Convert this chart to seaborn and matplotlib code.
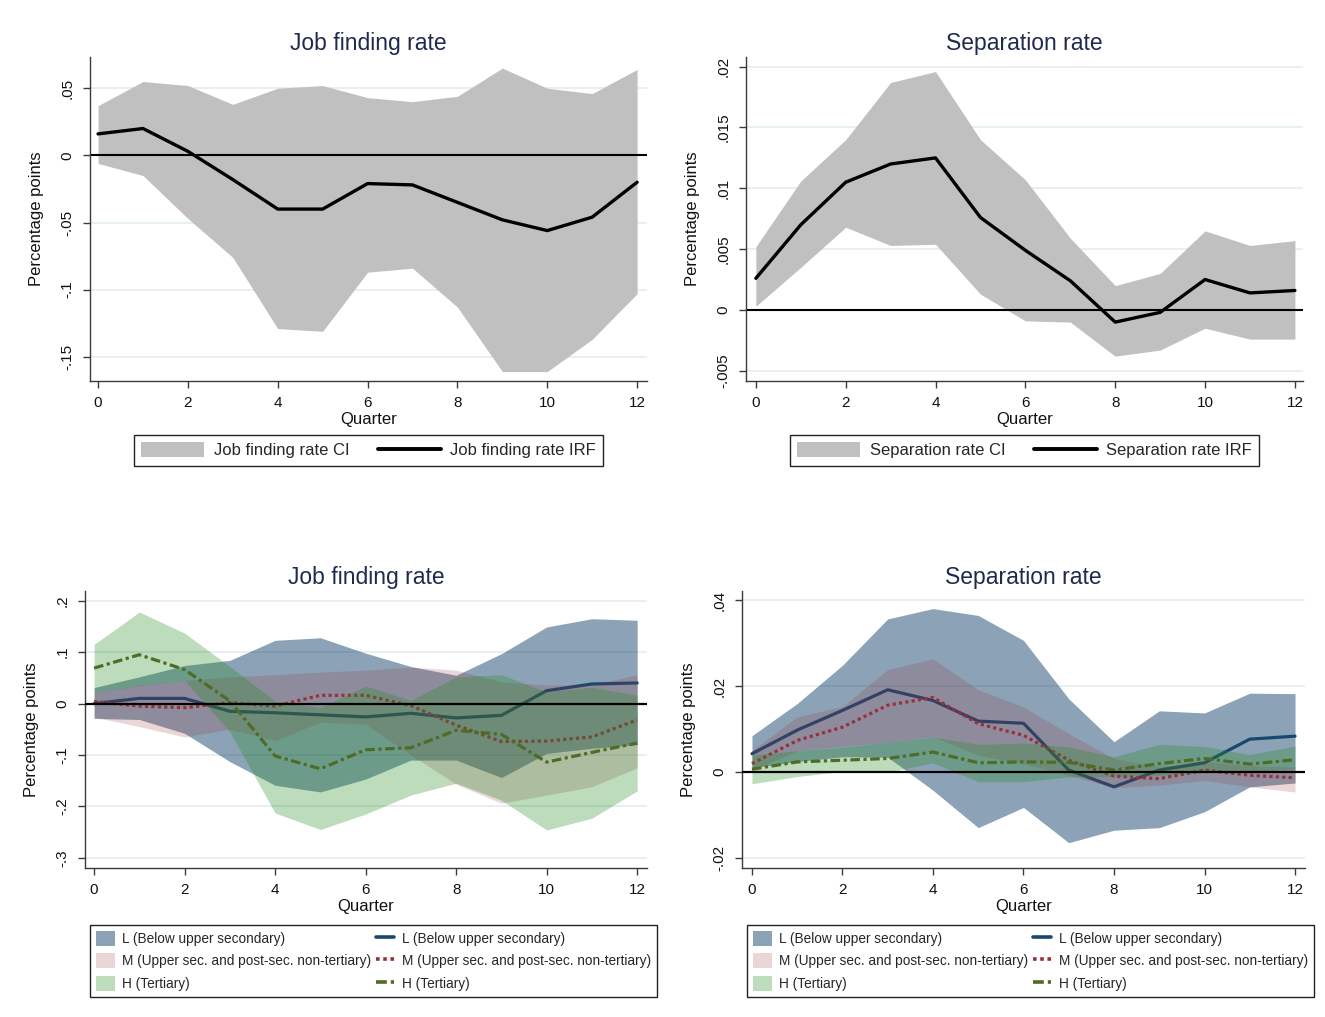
"""
Impulse responses of job finding and separation rates, pooled and by education.
"""

import numpy as np
import pandas as pd
import matplotlib
matplotlib.use('Agg')
import matplotlib.pyplot as plt
from matplotlib.patches import Patch
from matplotlib.lines import Line2D
import seaborn as sns

quarters = list(range(13))
xtick_values = [0, 2, 4, 6, 8, 10, 12]

# pooled job finding rate
jf_irf = [0.016, 0.020, 0.003, -0.018, -0.040, -0.040, -0.021, -0.022, -0.035, -0.048, -0.056, -0.046, -0.020]
jf_lo = [-0.006, -0.015, -0.047, -0.076, -0.129, -0.131, -0.087, -0.084, -0.113, -0.161, -0.161, -0.137, -0.103]
jf_hi = [0.037, 0.055, 0.052, 0.038, 0.050, 0.052, 0.043, 0.040, 0.044, 0.065, 0.050, 0.046, 0.064]

# pooled separation rate
sr_irf = [0.0026, 0.0070, 0.0105, 0.0120, 0.0125, 0.0076, 0.0049, 0.0024, -0.0010, -0.0002, 0.0025, 0.0014, 0.0016]
sr_lo = [0.0003, 0.0035, 0.0068, 0.0053, 0.0054, 0.0013, -0.0009, -0.0010, -0.0038, -0.0033, -0.0015, -0.0024, -0.0024]
sr_hi = [0.0052, 0.0106, 0.0140, 0.0187, 0.0196, 0.0140, 0.0107, 0.0059, 0.0020, 0.0030, 0.0065, 0.0053, 0.0057]

# job finding rate by education
jf_L = [0.000, 0.010, 0.010, -0.015, -0.018, -0.022, -0.026, -0.019, -0.028, -0.023, 0.025, 0.038, 0.040]
jf_L_lo = [-0.029, -0.031, -0.058, -0.113, -0.159, -0.172, -0.147, -0.110, -0.110, -0.144, -0.097, -0.087, -0.080]
jf_L_hi = [0.031, 0.052, 0.074, 0.084, 0.123, 0.128, 0.098, 0.072, 0.055, 0.097, 0.149, 0.165, 0.162]
jf_M = [0.004, -0.005, -0.008, 0.002, -0.005, 0.016, 0.016, -0.004, -0.042, -0.074, -0.073, -0.065, -0.032]
jf_M_lo = [-0.026, -0.045, -0.065, -0.050, -0.072, -0.036, -0.040, -0.100, -0.157, -0.194, -0.178, -0.162, -0.125]
jf_M_hi = [0.022, 0.036, 0.045, 0.052, 0.056, 0.061, 0.065, 0.071, 0.065, 0.042, 0.036, 0.036, 0.056]
jf_H = [0.069, 0.095, 0.066, 0.005, -0.102, -0.127, -0.090, -0.086, -0.052, -0.060, -0.114, -0.095, -0.077]
jf_H_lo = [0.022, 0.035, 0.045, -0.055, -0.213, -0.245, -0.215, -0.178, -0.155, -0.188, -0.246, -0.223, -0.170]
jf_H_hi = [0.115, 0.178, 0.137, 0.072, 0.005, -0.008, 0.034, 0.006, 0.052, 0.056, 0.023, 0.032, 0.016]

# separation rate by education
sr_L = [0.0043, 0.0098, 0.0144, 0.0192, 0.0167, 0.0119, 0.0114, 0.0005, -0.0034, 0.0005, 0.0022, 0.0077, 0.0084]
sr_L_lo = [0.0010, 0.0025, 0.0036, 0.0035, -0.0042, -0.0129, -0.0082, -0.0164, -0.0135, -0.0129, -0.0092, -0.0034, -0.0025]
sr_L_hi = [0.0085, 0.0160, 0.0249, 0.0357, 0.0381, 0.0365, 0.0307, 0.0171, 0.0071, 0.0143, 0.0138, 0.0184, 0.0183]
sr_M = [0.0020, 0.0074, 0.0105, 0.0156, 0.0174, 0.0113, 0.0086, 0.0028, -0.0009, -0.0015, 0.0005, -0.0007, -0.0013]
sr_M_lo = [0.0005, 0.0050, 0.0060, 0.0070, 0.0083, 0.0040, 0.0020, -0.0007, -0.0036, -0.0030, -0.0019, -0.0034, -0.0046]
sr_M_hi = [0.0050, 0.0129, 0.0153, 0.0239, 0.0264, 0.0192, 0.0152, 0.0090, 0.0032, 0.0012, 0.0025, 0.0015, 0.0012]
sr_H = [0.0007, 0.0024, 0.0028, 0.0032, 0.0047, 0.0022, 0.0024, 0.0023, 0.0005, 0.0020, 0.0032, 0.0019, 0.0029]
sr_H_lo = [-0.0027, -0.0010, 0.0002, 0.0000, 0.0022, -0.0022, -0.0022, -0.0011, -0.0010, -0.0007, 0.0000, 0.0000, 0.0008]
sr_H_hi = [0.0040, 0.0050, 0.0058, 0.0070, 0.0082, 0.0065, 0.0068, 0.0059, 0.0036, 0.0065, 0.0060, 0.0041, 0.0061]

group_names = ['L (Below upper secondary)',
               'M (Upper sec. and post-sec. non-tertiary)',
               'H (Tertiary)']

jf_ticks = [0.05, 0, -0.05, -0.1, -0.15]
jf_ticklabels = ['.05', '0', '-.05', '-.1', '-.15']
sr_ticks = [0.02, 0.015, 0.01, 0.005, 0, -0.005]
sr_ticklabels = ['.02', '.015', '.01', '.005', '0', '-.005']
jf_ed_ticks = [0.2, 0.1, 0, -0.1, -0.2, -0.3]
jf_ed_ticklabels = ['.2', '.1', '0', '-.1', '-.2', '-.3']
sr_ed_ticks = [0.04, 0.02, 0, -0.02]
sr_ed_ticklabels = ['.04', '.02', '0', '-.02']

sns.set_theme(style='white')
plt.rcParams['font.family'] = ['Liberation Sans', 'DejaVu Sans']

TITLE_COLOR = '#1e2b4c'
GRID_COLOR = '#e4eef0'
SPINE_COLOR = '#3a3a3a'
CI_GRAY = '#c0c0c0'
NAVY = '#1a476f'
MAROON = '#99303a'
FOREST = '#228b22'
OLIVE = '#4f6c26'

DOT = (0, (1, 1))
DASHDOT = (0, (3, 1.1, 1, 1.1))


def style_axes(ax, title, ylim, yticks, ylabels, xlim):
    ax.set_xlim(*xlim)
    ax.set_ylim(*ylim)
    ax.set_xticks(xtick_values)
    ax.set_xticklabels([str(v) for v in xtick_values])
    ax.set_yticks(yticks)
    ax.set_yticklabels(ylabels, rotation=90, va='center')
    ax.grid(axis='y', color=GRID_COLOR, lw=1.3)
    ax.grid(axis='x', visible=False)
    ax.set_axisbelow(True)
    for s in ['top', 'right']:
        ax.spines[s].set_visible(False)
    for s in ['left', 'bottom']:
        ax.spines[s].set_color(SPINE_COLOR)
        ax.spines[s].set_linewidth(1.0)
    ax.tick_params(axis='both', direction='out', length=5, width=1,
                   color=SPINE_COLOR, labelsize=11, pad=6,
                   left=True, bottom=True, labelcolor='#111111')
    ax.set_title(title, fontsize=16.5, color=TITLE_COLOR, pad=5)
    ax.set_xlabel('Quarter', fontsize=12, labelpad=1.5, color='#111111')
    ax.set_ylabel('Percentage points', fontsize=12, labelpad=12, color='#111111')


def plot_pooled(ax, irf, lo, hi, title, ylim, yticks, ylabels, xlim):
    df = pd.DataFrame({'quarter': quarters, 'irf': irf, 'lo': lo, 'hi': hi})
    ax.fill_between(df['quarter'], df['lo'], df['hi'], color=CI_GRAY, lw=0, zorder=1)
    ax.axhline(0, color='black', lw=1.5, zorder=2)
    sns.lineplot(data=df, x='quarter', y='irf', ax=ax, color='black', lw=2.4, zorder=3)
    style_axes(ax, title, ylim, yticks, ylabels, xlim)
    handles = [Patch(facecolor=CI_GRAY, edgecolor='none'),
               Line2D([], [], color='black', lw=2.8)]
    leg = ax.legend(handles, [title + ' CI', title + ' IRF'], ncol=2,
                    loc='upper center', bbox_to_anchor=(0.5, -0.14),
                    fontsize=12, frameon=True, fancybox=False, framealpha=1,
                    edgecolor='#222222', handlelength=3.8, handleheight=1.0,
                    handletextpad=0.55, columnspacing=1.7, borderpad=0.45)
    leg.get_frame().set_linewidth(1.0)


def plot_by_group(ax, lines, bands, title, ylim, yticks, ylabels, xlim):
    df = pd.DataFrame({'quarter': quarters})
    band_colors = [(NAVY, 0.5), (MAROON, 0.2), (FOREST, 0.3)]
    line_styles = [(NAVY, '-'), (MAROON, DOT), (OLIVE, DASHDOT)]
    z = 1
    for i, (vals, (lo, hi)) in enumerate(zip(lines, bands)):
        df['lo'], df['hi'], df['y'] = lo, hi, vals
        c, a = band_colors[i]
        ax.fill_between(df['quarter'], df['lo'], df['hi'], color=c, alpha=a, lw=0, zorder=z)
        lc, ls = line_styles[i]
        sns.lineplot(data=df, x='quarter', y='y', ax=ax, color=lc, lw=2.3,
                     linestyle=ls, zorder=z + 1)
        z += 2
    ax.axhline(0, color='black', lw=1.6, zorder=z)
    style_axes(ax, title, ylim, yticks, ylabels, xlim)

    handles = [Patch(facecolor=c, alpha=a, edgecolor='none') for c, a in band_colors]
    handles += [Line2D([], [], color=lc, lw=2.6, linestyle=ls) for lc, ls in line_styles]
    leg = ax.legend(handles, group_names * 2, ncol=2, loc='upper left',
                    bbox_to_anchor=(0.009, -0.205), fontsize=9.8, frameon=True,
                    fancybox=False, framealpha=1, edgecolor='#222222',
                    handlelength=1.35, handleheight=1.3, handletextpad=0.55,
                    columnspacing=0.35, labelspacing=0.55, borderpad=0.45,
                    borderaxespad=0.0)
    leg.get_frame().set_linewidth(1.0)


fig = plt.figure(figsize=(13.25, 10.17), dpi=100)
fig.patch.set_facecolor('white')

ax_tl = fig.add_axes([0.0679, 0.6254, 0.4204, 0.3186])
ax_tr = fig.add_axes([0.5630, 0.6254, 0.4204, 0.3186])
ax_bl = fig.add_axes([0.0642, 0.1465, 0.4242, 0.2724])
ax_br = fig.add_axes([0.5600, 0.1465, 0.4249, 0.2724])

plot_pooled(ax_tl, jf_irf, jf_lo, jf_hi, 'Job finding rate',
            (-0.168, 0.0733), jf_ticks, jf_ticklabels, (-0.18, 12.22))
plot_pooled(ax_tr, sr_irf, sr_lo, sr_hi, 'Separation rate',
            (-0.00584, 0.0208), sr_ticks, sr_ticklabels, (-0.22, 12.18))

plot_by_group(ax_bl, [jf_L, jf_M, jf_H],
              [(jf_L_lo, jf_L_hi), (jf_M_lo, jf_M_hi), (jf_H_lo, jf_H_hi)],
              'Job finding rate', (-0.320, 0.219), jf_ed_ticks, jf_ed_ticklabels,
              (-0.2, 12.22))
plot_by_group(ax_br, [sr_L, sr_M, sr_H],
              [(sr_L_lo, sr_L_hi), (sr_M_lo, sr_M_hi), (sr_H_lo, sr_H_hi)],
              'Separation rate', (-0.0223, 0.0422), sr_ed_ticks, sr_ed_ticklabels,
              (-0.22, 12.22))

plt.savefig('out.png', dpi=100)
plt.close()
